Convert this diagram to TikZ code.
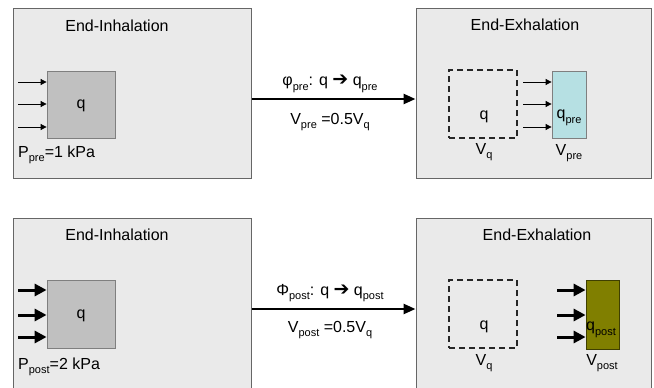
\documentclass[tikz,border=0pt]{standalone}
\usepackage{fontspec}
\setmainfont{Liberation Sans}
\newfontfamily\symfont{DejaVu Sans}
\usepackage{xcolor}
\usetikzlibrary{arrows.meta, positioning}
\definecolor{panelfill}{HTML}{EAEAEA}
\definecolor{panelline}{HTML}{666666}
\definecolor{qfill}{HTML}{C0C0C0}
\definecolor{qline}{HTML}{7F7F7F}
\definecolor{prefill}{HTML}{B6E0E3}
\definecolor{postfill}{HTML}{807F00}
\definecolor{postline}{HTML}{3F3F00}
\newcommand\lo[1]{\raisebox{-4.5pt}{\fontsize{11}{12}\selectfont #1}}
\newcommand\maps{{\symfont\fontsize{19}{20}\selectfont ➔}}
\tikzset{
  panel/.style={draw=panelline, fill=panelfill, line width=1pt, inner sep=0pt},
  qbox/.style={draw=qline, fill=qfill, line width=0.8pt, inner sep=0pt,
               minimum width=68pt, minimum height=67pt},
  ghost/.style={draw=black!85, dash pattern=on 6pt off 4pt, line width=1.3pt,
                inner sep=0pt, minimum width=68pt, minimum height=68pt},
  txt/.style={font=\fontsize{16}{18}\selectfont, inner sep=0pt},
  inarr/.style={-{Triangle[length=6pt,width=6pt]}, line width=0.8pt},
  boldarr/.style={-{Triangle[length=12pt,width=12pt]}, line width=3pt},
  flowarr/.style={-{Triangle[length=12pt,width=10pt]}, line width=2.5pt},
}

\begin{document}
\begin{tikzpicture}[x=1pt, y=-1pt]
  \useasboundingbox (0,0) rectangle (654,388);
  \clip (0,0) rectangle (654,388);

  % pre (top row)
  \node[panel, minimum width=238pt, minimum height=170pt] (inhA) at (132,93) {};
  \node[panel, minimum width=235pt, minimum height=170pt] (exhA) at (533.5,93) {};
  \node[txt] (inhAt) at (117,26) {End-Inhalation};
  \node[txt] (exhAt) at (525,25) {End-Exhalation};

  \node[qbox] (qA) at (81,104.5) {};
  \node[txt] (qAt) at (81,106) {q};
  \foreach \y [count=\i] in {82,104,127}{
    \coordinate (ina\i) at (18,\y);
    \draw[inarr] (ina\i) -- (ina\i -| qA.west);
  }
  \node[txt, anchor=west] (pA) at (18,155) {P\lo{pre}=1 kPa};

  \draw[flowarr] ([yshift=-6pt]inhA.east) -- ([yshift=-6pt]exhA.west);
  \node[txt] (phiA) at (330,84) {φ\lo{pre}: q \maps{} q\lo{pre}};
  \node[txt] (volA) at (330,122) {V\lo{pre} =0.5V\lo{q}};

  \node[ghost] (vqA) at (483,104) {};
  \node[txt] (vqAq) at (484,117) {q};
  \node[txt] (vqAl) at (484,152) {V\lo{q}};
  \node[draw=qline, fill=prefill, line width=0.8pt, inner sep=0pt,
        minimum width=34pt, minimum height=67pt] (preA) at (569,104.5) {};
  \node[txt] (preAq) at (569,118) {q\lo{pre}};
  \node[txt] (preAl) at (569,153) {V\lo{pre}};
  \foreach \y [count=\i] in {82,104,127}{
    \coordinate (outa\i) at (523,\y);
    \draw[inarr] (outa\i) -- (outa\i -| preA.west);
  }

  % post (bottom row)
  \node[panel, minimum width=238pt, minimum height=180pt] (inhB) at (132,308) {};
  \node[panel, minimum width=235pt, minimum height=180pt] (exhB) at (533.5,308) {};
  \node[txt] (inhBt) at (117,235) {End-Inhalation};
  \node[txt] (exhBt) at (537,235) {End-Exhalation};

  \node[qbox, minimum height=68pt] (qB) at (81,314) {};
  \node[txt] (qBt) at (81,316) {q};
  \foreach \y [count=\i] in {290,315,337}{
    \coordinate (inb\i) at (18,\y);
    \draw[boldarr] (inb\i) -- (inb\i -| qB.west);
  }
  \node[txt, anchor=west] (pB) at (18,367) {P\lo{post}=2 kPa};

  \draw[flowarr] ([yshift=-1pt]inhB.east) -- ([yshift=-1pt]exhB.west);
  \node[txt] (phiB) at (330,293) {Φ\lo{post}: q \maps{} q\lo{post}};
  \node[txt] (volB) at (330,330) {V\lo{post} =0.5V\lo{q}};

  \node[ghost] (vqB) at (483,314) {};
  \node[txt] (vqBq) at (484,327) {q};
  \node[txt] (vqBl) at (484,363) {V\lo{q}};
  \node[draw=postline, fill=postfill, line width=0.8pt, inner sep=0pt,
        minimum width=33pt, minimum height=69pt] (postB) at (602.5,314.5) {};
  \node[txt, anchor=west] (postBq) at (586,330) {q\lo{post}};
  \node[txt] (postBl) at (602,363) {V\lo{post}};
  \foreach \y [count=\i] in {290,315,337}{
    \coordinate (outb\i) at (557,\y);
    \draw[boldarr] (outb\i) -- (outb\i -| postB.west);
  }
\end{tikzpicture}
\end{document}
